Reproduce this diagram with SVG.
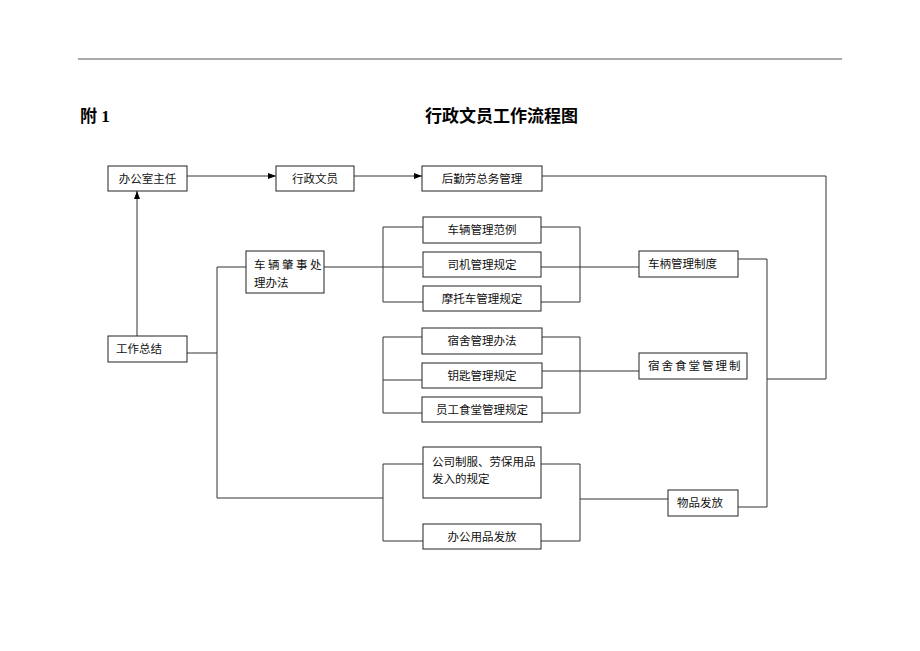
<svg xmlns="http://www.w3.org/2000/svg" width="920" height="651" viewBox="0 0 920 651">
<style>
.bx{fill:#fff;stroke:#222;stroke-width:1}
.ln{fill:none;stroke:#333;stroke-width:1}
.t{font-family:"Noto Sans CJK SC","Noto Sans CJK TC",sans-serif;font-size:11.5px;fill:#111}
.c{text-anchor:middle}
.h{font-family:"Liberation Serif","Noto Sans CJK SC",serif;font-weight:bold;font-size:17px;fill:#000}
</style>
<defs>
<marker id="ah" markerWidth="8" markerHeight="6" refX="8" refY="3" orient="auto" markerUnits="userSpaceOnUse">
<path d="M0,0 L8,3 L0,6 Z" fill="#000"/>
</marker>
</defs>
<rect width="920" height="651" fill="#fff"/>
<line x1="78" y1="59" x2="842" y2="59" stroke="#555" stroke-width="1"/>
<text class="h" x="80" y="122">附 1</text>
<text class="h" x="425" y="122">行政文员工作流程图</text>

<g id="connectors">
<line class="ln" x1="187" y1="176" x2="276" y2="176" marker-end="url(#ah)"/>
<line class="ln" x1="354" y1="176" x2="422" y2="176" marker-end="url(#ah)"/>
<line class="ln" x1="137" y1="336" x2="137" y2="191" marker-end="url(#ah)"/>
<polyline class="ln" points="542,176 826,176 826,379 767,379"/>
<polyline class="ln" points="738,259 767,259 767,507 738,507"/>
<line class="ln" x1="187" y1="353" x2="217" y2="353"/>
<polyline class="ln" points="246,267 217,267 217,498 383,498"/>
<line class="ln" x1="324" y1="267" x2="422" y2="267"/>
<polyline class="ln" points="423,227 383,227 383,302 423,302"/>
<polyline class="ln" points="541,227 580,227 580,302 541,302"/>
<line class="ln" x1="541" y1="267" x2="639" y2="267"/>
<polyline class="ln" points="422,337 383,337 383,413 422,413"/>
<line class="ln" x1="383" y1="380" x2="422" y2="380"/>
<polyline class="ln" points="542,337 580,337 580,413 542,413"/>
<line class="ln" x1="542" y1="371" x2="639" y2="371" stroke="#2f4f2f"/>
<polyline class="ln" points="423,464 383,464 383,541 423,541"/>
<polyline class="ln" points="541,464 580,464 580,541 541,541"/>
<line class="ln" x1="580" y1="499" x2="668" y2="499"/>
</g>

<g id="n1"><rect class="bx" x="108" y="166" width="79" height="25"/><text class="t c" x="147.5" y="183">办公室主任</text></g>
<g id="n2"><rect class="bx" x="276" y="166" width="78" height="25"/><text class="t c" x="315" y="183">行政文员</text></g>
<g id="n3"><rect class="bx" x="422" y="166" width="120" height="25"/><text class="t c" x="482" y="183">后勤劳总务管理</text></g>
<g id="n4"><rect class="bx" x="246" y="251" width="78" height="42"/><text class="t" x="254" y="269" letter-spacing="2.5">车辆肇事处</text><text class="t" x="254" y="287">理办法</text></g>
<g id="n5"><rect class="bx" x="108" y="336" width="79" height="26"/><text class="t" x="116" y="353">工作总结</text></g>
<g id="n6"><rect class="bx" x="423" y="217" width="118" height="26"/><text class="t c" x="482" y="234">车辆管理范例</text></g>
<g id="n7"><rect class="bx" x="423" y="252" width="118" height="25"/><text class="t c" x="482" y="269">司机管理规定</text></g>
<g id="n8"><rect class="bx" x="423" y="286" width="118" height="25"/><text class="t c" x="482" y="303">摩托车管理规定</text></g>
<g id="n9"><rect class="bx" x="639" y="251" width="99" height="26"/><text class="t" x="648" y="268">车柄管理制度</text></g>
<g id="n10"><rect class="bx" x="422" y="328" width="120" height="26"/><text class="t c" x="482" y="345">宿舍管理办法</text></g>
<g id="n11"><rect class="bx" x="422" y="363" width="120" height="25"/><text class="t c" x="482" y="380">钥匙管理规定</text></g>
<g id="n12"><rect class="bx" x="422" y="397" width="120" height="25"/><text class="t c" x="482" y="414">员工食堂管理规定</text></g>
<g id="n13"><rect class="bx" x="639" y="353" width="108" height="26"/><text class="t" x="648" y="370" letter-spacing="2">宿舍食堂管理制</text></g>
<g id="n14"><rect class="bx" x="423" y="447" width="118" height="51"/><text class="t" x="432" y="466">公司制服、劳保用品</text><text class="t" x="432" y="483">发入的规定</text></g>
<g id="n15"><rect class="bx" x="423" y="524" width="118" height="25"/><text class="t c" x="482" y="541">办公用品发放</text></g>
<g id="n16"><rect class="bx" x="668" y="490" width="70" height="26"/><text class="t" x="677" y="507">物品发放</text></g>
</svg>
